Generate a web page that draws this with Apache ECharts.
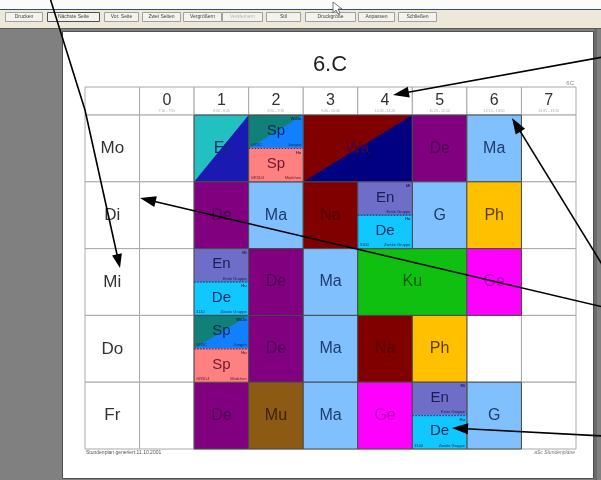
<!DOCTYPE html>
<html><head><meta charset="utf-8">
<script src="https://cdn.jsdelivr.net/npm/echarts@6/dist/echarts.min.js"></script>
<style>html,body{margin:0;padding:0;background:#fff}#c{width:601px;height:480px}</style>
</head><body><div id="c"></div>
<script>
// ---------- data ----------
const title = '6.C';
const classCode = '6C';
const days = ['Mo', 'Di', 'Mi', 'Do', 'Fr'];
const periods = ['0', '1', '2', '3', '4', '5', '6', '7'];
const periodTimes = ['7:10 - 7:55', '8:00 - 8:45', '8:50 - 9:35', '9:45 - 10:30', '10:35 - 11:20', '11:25 - 12:10', '12:15 - 13:00', '13:05 - 13:50'];
// whole-class lessons: day, period, number of periods, subject
const lessons = [
  ['Mo', '1', 1, 'Et'], ['Mo', '3', 2, 'Wa'], ['Mo', '5', 1, 'De'], ['Mo', '6', 1, 'Ma'],
  ['Di', '1', 1, 'De'], ['Di', '2', 1, 'Ma'], ['Di', '3', 1, 'Na'], ['Di', '5', 1, 'G'], ['Di', '6', 1, 'Ph'],
  ['Mi', '2', 1, 'De'], ['Mi', '3', 1, 'Ma'], ['Mi', '4', 2, 'Ku'], ['Mi', '6', 1, 'Ge'],
  ['Do', '2', 1, 'De'], ['Do', '3', 1, 'Ma'], ['Do', '4', 1, 'Na'], ['Do', '5', 1, 'Ph'],
  ['Fr', '1', 1, 'De'], ['Fr', '2', 1, 'Mu'], ['Fr', '3', 1, 'Ma'], ['Fr', '4', 1, 'Ge'], ['Fr', '6', 1, 'G']
];
// split (group) lessons: day, period, half (0 = first group, 1 = second group), subject, left note, right note, corner note, group key
const groupLessons = [
  ['Mo', '2', 0, 'Sp', 'GR5C', 'Jungen', 'Wi/Ja', 'SpJ'],
  ['Mo', '2', 1, 'Sp', 'GR5D4', 'Mädchen', 'Hu', 'SpM'],
  ['Di', '4', 0, 'En', '', 'Erste Gruppe', 'Mi', 'En'],
  ['Di', '4', 1, 'De', '3100', 'Zweite Gruppe', 'Hu', 'De2'],
  ['Mi', '1', 0, 'En', '', 'Erste Gruppe', 'Mi', 'En'],
  ['Mi', '1', 1, 'De', '3110', 'Zweite Gruppe', 'Hu', 'De2'],
  ['Do', '1', 0, 'Sp', 'GR5C', 'Jungen', 'Wi/Ja', 'SpJ'],
  ['Do', '1', 1, 'Sp', 'GR5D4', 'Mädchen', 'Hu', 'SpM'],
  ['Fr', '5', 0, 'En', '', 'Erste Gruppe', 'Mi', 'En'],
  ['Fr', '5', 1, 'De', '3100', 'Zweite Gruppe', 'Hu', 'De2']
];
const footerLeft = 'Stundenplan generiert:11.10.2001';
const footerRight = 'aSc Stundenpläne';
const toolbarButtons = ['Drucken', 'Nächste Seite', 'Vor. Seite', 'Zwei Seiten', 'Vergrößern', 'Verkleinern', 'Stil', 'Druckgröße', 'Anpassen', 'Schließen'];

// ---------- styles ----------
const FONT = '"Liberation Sans", Arial, sans-serif';
const fullStyle = {
  Et: {fill: '#22c0c0', diag: '#1a1ab2', text: '#18286a'},
  Wa: {fill: '#800000', diag: '#000080', text: '#4c0038'},
  De: {fill: '#800080', text: '#4a004c'},
  Ma: {fill: '#80c0ff', text: '#1e3c6e'},
  Na: {fill: '#800000', text: '#560000'},
  G:  {fill: '#80c0ff', text: '#1e3c6e'},
  Ph: {fill: '#ffc000', text: '#5a4000'},
  Ku: {fill: '#10c010', text: '#0a5a0a'},
  Ge: {fill: '#ff00ff', text: '#b000b8'},
  Mu: {fill: '#8c5a12', text: '#3a2406'}
};
const groupStyle = {
  SpJ: {fill: '#108078', diag: '#1080ff', text: '#0c2a5a'},
  SpM: {fill: '#ff8080', text: '#6a1830'},
  En:  {fill: '#6e6ec8', text: '#1c1c58'},
  De2: {fill: '#10c8ff', text: '#0c2a5a'}
};
const HEADER = 0.42; // header height in row units

function txt(t, x, y, font, fill, align, valign, extra) {
  return Object.assign({type: 'text', style: {text: t, x: x, y: y, font: font, fill: fill,
    align: align, textAlign: align, verticalAlign: valign, textVerticalAlign: valign}}, extra || {});
}

// table skeleton
const tableData = [];
for (let r = -1; r < days.length; r++) for (let c = 0; c <= periods.length; c++) tableData.push([c, r]);

function renderTable(params, api) {
  const c = api.value(0), r = api.value(1);
  const yTop = r < 0 ? -HEADER : r, yBot = r < 0 ? 0 : r + 1;
  const a = api.coord([c, yTop]), b = api.coord([c + 1, yBot]);
  const ch = [{type: 'rect', shape: {x: a[0], y: a[1], width: b[0] - a[0], height: b[1] - a[1]},
    style: {fill: '#fff', stroke: '#a8a8a8', lineWidth: 1}}];
  const cx = (a[0] + b[0]) / 2;
  if (r < 0 && c > 0) {
    ch.push(txt(periods[c - 1], cx, a[1] + 14, '16px ' + FONT, '#333', 'center', 'middle'));
    ch.push(txt(periodTimes[c - 1], cx, b[1] - 4, '3.5px ' + FONT, '#aaa', 'center', 'middle'));
  }
  if (r >= 0 && c === 0) {
    ch.push(txt(days[r], cx, (a[1] + b[1]) / 2, '17px ' + FONT, '#333', 'center', 'middle'));
  }
  return {type: 'group', children: ch};
}

function renderLesson(params, api) {
  const L = lessons[api.value(3)];
  const st = fullStyle[L[3]];
  const a = api.coord([api.value(0), api.value(1)]);
  const b = api.coord([api.value(0) + api.value(2), api.value(1) + 1]);
  const x0 = a[0], y0 = a[1], x1 = b[0], y1 = b[1];
  const ch = [{type: 'rect', shape: {x: x0, y: y0, width: x1 - x0, height: y1 - y0}, style: {fill: st.fill}}];
  if (st.diag) ch.push({type: 'polygon', shape: {points: [[x1, y0], [x1, y1], [x0, y1]]}, style: {fill: st.diag}});
  ch.push({type: 'rect', shape: {x: x0, y: y0, width: x1 - x0, height: y1 - y0}, style: {fill: null, stroke: '#4a4a4a', lineWidth: 1}});
  ch.push(txt(L[3], (x0 + x1) / 2, (y0 + y1) / 2, '16px ' + FONT, st.text, 'center', 'middle'));
  return {type: 'group', children: ch};
}

function renderGroup(params, api) {
  const G = groupLessons[api.value(3)];
  const st = groupStyle[G[7]];
  const a = api.coord([api.value(0), api.value(1)]);
  const b = api.coord([api.value(0) + 1, api.value(1) + api.value(2)]);
  const x0 = a[0], y0 = a[1], x1 = b[0], y1 = b[1];
  const ch = [{type: 'rect', shape: {x: x0, y: y0, width: x1 - x0, height: y1 - y0}, style: {fill: st.fill}}];
  if (st.diag) ch.push({type: 'polygon', shape: {points: [[x1, y0], [x1, y1], [x0, y1]]}, style: {fill: st.diag}});
  ch.push({type: 'rect', shape: {x: x0, y: y0, width: x1 - x0, height: y1 - y0}, style: {fill: null, stroke: '#4a4a4a', lineWidth: 1}});
  if (G[2] === 1) {
    ch.push({type: 'line', shape: {x1: x0 + 0.5, y1: y0, x2: x1 - 0.5, y2: y0}, style: {stroke: st.fill, lineWidth: 1.2}});
    ch.push({type: 'line', shape: {x1: x0, y1: y0, x2: x1, y2: y0}, style: {stroke: '#1a2a8a', lineWidth: 1, lineDash: [1.5, 1.5]}});
  }
  ch.push(txt(G[3], (x0 + x1) / 2, (y0 + y1) / 2 - 1, '15px ' + FONT, st.text, 'center', 'middle'));
  ch.push(txt(G[6], x1 - 2, y0 + 4, 'bold 4px ' + FONT, st.text, 'right', 'middle'));
  ch.push(txt(G[4], x0 + 2, y1 - 3.5, '4px ' + FONT, st.text, 'left', 'middle'));
  ch.push(txt(G[5], x1 - 2, y1 - 3.5, '4px ' + FONT, st.text, 'right', 'middle'));
  return {type: 'group', children: ch};
}

// ---------- screen chrome (print preview window) ----------
const graphics = [
  {type: 'rect', z: 0, shape: {x: 0, y: 0, width: 601, height: 480}, style: {fill: '#808080'}},
  {type: 'rect', z: 0, shape: {x: 0, y: 0, width: 601, height: 9}, style: {fill: '#fcfcfc'}},
  {type: 'rect', z: 0, shape: {x: 0, y: 9, width: 601, height: 19}, style: {fill: '#ece9d8'}},
  {type: 'line', z: 0, shape: {x1: 0, y1: 9.5, x2: 601, y2: 9.5}, style: {stroke: '#2f4f86', lineWidth: 1}},
  {type: 'line', z: 0, shape: {x1: 0, y1: 28.5, x2: 601, y2: 28.5}, style: {stroke: '#5a5a5a', lineWidth: 1}},
  {type: 'rect', z: 0, shape: {x: 62.5, y: 31.5, width: 531, height: 447}, style: {fill: '#ffffff', stroke: '#505050', lineWidth: 1}},
  {type: 'rect', z: 0, shape: {x: 594, y: 29, width: 3, height: 451}, style: {fill: '#6a6a6a'}}
];
const btnX = [5, 47, 104, 142, 183, 222, 266, 305, 358, 398];
const btnW = [37, 52, 34, 38, 38, 40, 34, 50, 36, 38];
toolbarButtons.forEach(function (t, i) {
  graphics.push({type: 'rect', z: 1, shape: {x: btnX[i] + 0.5, y: 12.5, width: btnW[i], height: 9},
    style: {fill: '#f3f2ec', stroke: i === 1 ? '#505050' : '#a0a0a0', lineWidth: 1}});
  graphics.push({type: 'text', z: 2, x: btnX[i] + btnW[i] / 2 + 0.5, y: 17,
    style: {text: t, font: '5px ' + FONT, fill: i === 5 ? '#b8b8b8' : '#444', textAlign: 'center', textVerticalAlign: 'middle', align: 'center', verticalAlign: 'middle'}});
});
// mouse cursor
graphics.push({type: 'polygon', z: 3, shape: {points: [[333, 2], [333, 13], [336, 10], [338, 14], [340, 13], [338, 9], [342, 9]]},
  style: {fill: '#fff', stroke: '#555', lineWidth: 0.8}});
// page texts
graphics.push({type: 'text', z: 5, x: 330, y: 65, style: {text: title, font: '22px ' + FONT, fill: '#222', textAlign: 'center', textVerticalAlign: 'middle', align: 'center', verticalAlign: 'middle'}});
graphics.push({type: 'text', z: 5, x: 574, y: 83, style: {text: classCode, font: '6px ' + FONT, fill: '#888', textAlign: 'right', textVerticalAlign: 'middle', align: 'right', verticalAlign: 'middle'}});
graphics.push({type: 'text', z: 5, x: 86, y: 453, style: {text: footerLeft, font: '5px ' + FONT, fill: '#555', textAlign: 'left', textVerticalAlign: 'middle', align: 'left', verticalAlign: 'middle'}});
graphics.push({type: 'text', z: 5, x: 575, y: 453, style: {text: footerRight, font: 'italic 5px ' + FONT, fill: '#777', textAlign: 'right', textVerticalAlign: 'middle', align: 'right', verticalAlign: 'middle'}});

// annotation arrows
function arrow(pts, len, wid) {
  const n = pts.length, tip = pts[n - 1], prev = pts[n - 2];
  const dx = tip[0] - prev[0], dy = tip[1] - prev[1], d = Math.sqrt(dx * dx + dy * dy);
  const ux = dx / d, uy = dy / d;
  const bx = tip[0] - ux * len, by = tip[1] - uy * len;
  const line = pts.slice(0, n - 1).concat([[bx + ux * 2, by + uy * 2]]);
  graphics.push({type: 'polyline', z: 50, shape: {points: line}, style: {stroke: '#000', lineWidth: 1.6, fill: null}});
  graphics.push({type: 'polygon', z: 50, shape: {points: [tip, [bx - uy * wid / 2, by + ux * wid / 2], [bx + uy * wid / 2, by - ux * wid / 2]]}, style: {fill: '#000'}});
}
arrow([[50, -2], [85, 110], [120, 268]], 14, 10);
arrow([[603, 57], [393, 95]], 16, 11);
arrow([[603, 266], [512, 118]], 16, 11);
arrow([[603, 307], [140, 198]], 16, 11);
arrow([[603, 436], [452, 428]], 16, 11);

const chart = echarts.init(document.getElementById('c'), null, {renderer: 'canvas'});
chart.setOption({
  animation: false,
  graphic: {elements: graphics},
  grid: {left: 85, top: 87, width: 491, height: 362},
  xAxis: {type: 'value', min: 0, max: periods.length + 1, show: false},
  yAxis: {type: 'value', min: -HEADER, max: days.length, inverse: true, show: false},
  series: [
    {type: 'custom', z: 10, renderItem: renderTable, data: tableData},
    {type: 'custom', z: 11, renderItem: renderLesson,
      data: lessons.map(function (l, i) { return [periods.indexOf(l[1]) + 1, days.indexOf(l[0]), l[2], i]; })},
    {type: 'custom', z: 11, renderItem: renderGroup,
      data: groupLessons.map(function (g, i) { return [periods.indexOf(g[1]) + 1, days.indexOf(g[0]) + g[2] * 0.5, 0.5, i]; })}
  ]
});
</script>
</body></html>
